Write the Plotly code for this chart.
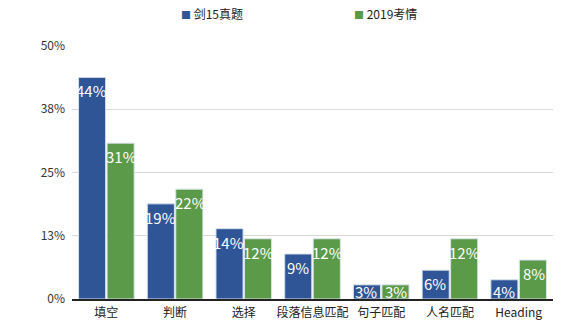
import plotly.graph_objects as go

categories = ["填空", "判断", "选择", "段落信息匹配", "句子匹配", "人名匹配", "Heading"]
series_names = ["剑15真题", "2019考情"]
values_cam15 = [0.438, 0.188, 0.139, 0.089, 0.028, 0.057, 0.038]
values_2019 = [0.308, 0.217, 0.119, 0.119, 0.028, 0.119, 0.077]
tick_vals = [0, 0.125, 0.25, 0.375, 0.5]
tick_text = ["0%", "13%", "25%", "38%", "50%"]
colors = ["#2F5597", "#5B9A48"]

FONT = "Noto Sans CJK SC"
PX_PER_UNIT = 253 / 0.5  # plot height / y range

fig = go.Figure()
annotations = []
for i, (name, vals, col) in enumerate(zip(series_names, [values_cam15, values_2019], colors)):
    fig.add_trace(go.Bar(
        x=categories, y=vals, name=name, showlegend=False,
        marker=dict(color=col, line=dict(color="#D9E2EA", width=1)),
        hoverinfo="skip",
    ))
    xshift = -15 if i == 0 else 15
    for c, v in zip(categories, vals):
        center_px = max(v * PX_PER_UNIT - 13.5, 7.5)
        annotations.append(dict(
            x=c, y=center_px / PX_PER_UNIT, xref="x", yref="y",
            text=f"{round(v * 100)}%", showarrow=False, xshift=xshift,
            yanchor="middle", xanchor="center",
            font=dict(color="white", size=15, family=FONT),
        ))

# legend drawn as text
legend_x = [0.222, 0.582]
for name, col, lx in zip(series_names, colors, legend_x):
    annotations.append(dict(
        x=lx, y=1.13, xref="paper", yref="paper", xanchor="left", yanchor="middle",
        text=f'<span style="color:{col};font-size:10px">■</span> {name}',
        showarrow=False, font=dict(size=12, color="#222222", family=FONT),
    ))

fig.update_layout(
    width=581, height=324,
    margin=dict(l=72, r=28, t=46, b=25),
    paper_bgcolor="white", plot_bgcolor="white",
    font=dict(family=FONT, size=12, color="#333333"),
    barmode="group", bargap=0.17, bargroupgap=0.05,
    showlegend=False,
    annotations=annotations,
    xaxis=dict(showline=True, linecolor="#222222", linewidth=1.5, ticks="",
               tickfont=dict(size=12, color="#222222"), automargin=False,
               ticklabelstandoff=2),
    yaxis=dict(range=[0, 0.5], tickvals=tick_vals, ticktext=tick_text,
               showgrid=True, gridcolor="#D9D9D9", gridwidth=1, zeroline=False,
               tickfont=dict(size=12, color="#333333"), ticklabelstandoff=6,
               automargin=False),
)
fig.write_html("out.html")
